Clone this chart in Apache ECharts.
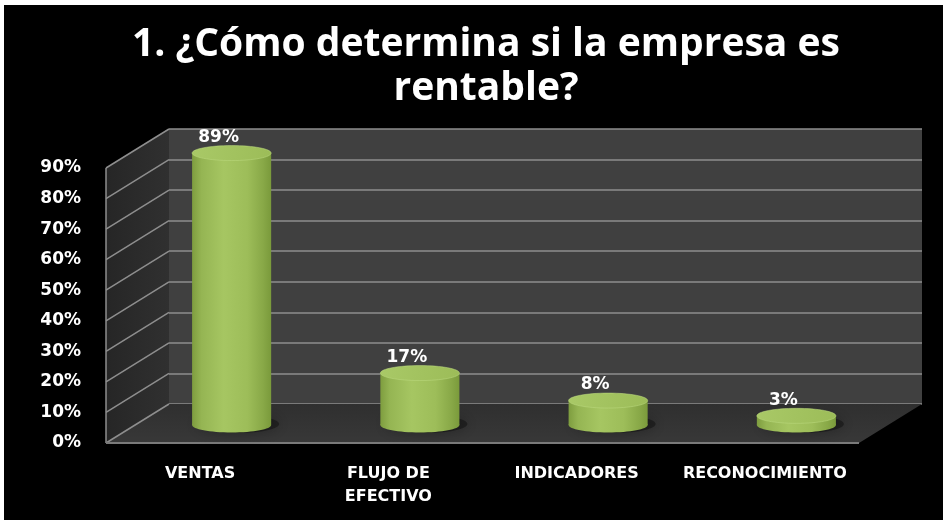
<!DOCTYPE html>
<html>
<head>
<meta charset="utf-8">
<script src="https://cdn.jsdelivr.net/npm/echarts@6/dist/echarts.min.js"></script>
<style>
  html, body { margin: 0; padding: 0; background: #ffffff; }
  #chart { width: 943px; height: 520px; }
</style>
</head>
<body>
<div id="chart"></div>
<script>
// Chart content
const titleText = '1. ¿Cómo determina si la empresa es\nrentable?';
const categories = ['VENTAS', 'FLUJO DE\nEFECTIVO', 'INDICADORES', 'RECONOCIMIENTO'];
const values = [89, 17, 8, 3];
const yMin = 0;
const yMax = 90;
const yStep = 10;
const yTicks = [0, 10, 20, 30, 40, 50, 60, 70, 80, 90];

// 3D box look: depth offset of the front plane relative to the back wall
const DEPTH_DX = -63;
const DEPTH_DY = 39;
// cylinders stand half-way into the box
const BAR_DX = DEPTH_DX / 2;
const BAR_DY = 21;
const BAR_RY = 7.5;

const GRID_LINE = '#8e8e8e';
const labelFont = 'DejaVu Sans';

const chart = echarts.init(document.getElementById('chart'), null, { renderer: 'canvas' });

function wallsRender(params, api) {
  const cs = params.coordSys;
  const x = cs.x, y = cs.y, w = cs.width, h = cs.height;
  const children = [];
  // left side wall
  children.push({
    type: 'polygon',
    shape: { points: [[x, y], [x, y + h], [x + DEPTH_DX, y + h + DEPTH_DY], [x + DEPTH_DX, y + DEPTH_DY]] },
    style: {
      fill: { type: 'linear', x: 0, y: 0, x2: 1, y2: 0,
        colorStops: [{ offset: 0, color: '#262626' }, { offset: 1, color: '#303030' }] }
    }
  });
  // floor
  children.push({
    type: 'polygon',
    shape: { points: [[x, y + h], [x + w, y + h], [x + w + DEPTH_DX, y + h + DEPTH_DY], [x + DEPTH_DX, y + h + DEPTH_DY]] },
    style: {
      fill: { type: 'linear', x: 0, y: 0, x2: 0, y2: 1,
        colorStops: [{ offset: 0, color: '#2f2f2f' }, { offset: 1, color: '#383838' }] }
    }
  });
  // grid lines running across the side wall
  yTicks.forEach(function (v) {
    const p = api.coord([0, v]);
    children.push({
      type: 'line',
      shape: { x1: x, y1: p[1], x2: x + DEPTH_DX, y2: p[1] + DEPTH_DY },
      style: { stroke: GRID_LINE, lineWidth: 1.5 }
    });
  });
  // front vertical edge of the side wall
  children.push({
    type: 'line',
    shape: { x1: x + DEPTH_DX, y1: y + DEPTH_DY, x2: x + DEPTH_DX, y2: y + h + DEPTH_DY },
    style: { stroke: GRID_LINE, lineWidth: 1.5 }
  });
  // front edge of the floor
  children.push({
    type: 'line',
    shape: { x1: x + DEPTH_DX, y1: y + h + DEPTH_DY, x2: x + w + DEPTH_DX, y2: y + h + DEPTH_DY },
    style: { stroke: '#7a7a7a', lineWidth: 2 }
  });
  return { type: 'group', children: children };
}

function cylinderRender(params, api) {
  const idx = api.value(0);
  const val = api.value(1);
  const base = api.coord([idx, 0]);
  const top = api.coord([idx, val]);
  const cx = base[0] + BAR_DX;
  const baseY = base[1] + BAR_DY;
  const topY = top[1] + BAR_DY;
  const w = api.size([1, 0])[0] * 0.42;
  const rx = w / 2;
  const bodyFill = { type: 'linear', x: 0, y: 0, x2: 1, y2: 0,
    colorStops: [
      { offset: 0, color: '#7e9d3f' },
      { offset: 0.12, color: '#95b553' },
      { offset: 0.4, color: '#a6c662' },
      { offset: 0.7, color: '#9dbd59' },
      { offset: 0.9, color: '#88a847' },
      { offset: 1, color: '#7a9a3b' }
    ] };
  const topFill = { type: 'linear', x: 0, y: 0, x2: 1, y2: 1,
    colorStops: [
      { offset: 0, color: '#a9c967' },
      { offset: 1, color: '#9cbc58' }
    ] };
  return {
    type: 'group',
    children: [
      { // soft shadow on the floor
        type: 'ellipse',
        shape: { cx: cx + 6, cy: baseY - 1, rx: rx * 1.05, ry: BAR_RY * 1.2 },
        style: { fill: 'rgba(0,0,0,0.35)', shadowBlur: 14, shadowColor: 'rgba(0,0,0,0.8)' }
      },
      {
        type: 'ellipse',
        shape: { cx: cx, cy: baseY, rx: rx, ry: BAR_RY },
        style: { fill: bodyFill }
      },
      {
        type: 'rect',
        shape: { x: cx - rx, y: topY, width: w, height: Math.max(0, baseY - topY) },
        style: { fill: bodyFill }
      },
      {
        type: 'ellipse',
        shape: { cx: cx, cy: topY, rx: rx, ry: BAR_RY },
        style: { fill: topFill, stroke: 'rgba(190,220,130,0.5)', lineWidth: 1 }
      },
      {
        type: 'text',
        style: {
          x: cx - 13, y: topY - BAR_RY - 8,
          text: val + '%',
          fill: '#ffffff',
          font: 'bold 17px "' + labelFont + '"',
          align: 'center', verticalAlign: 'middle'
        }
      }
    ]
  };
}

const option = {
  backgroundColor: '#000000',
  animation: false,
  title: {
    text: titleText,
    left: 481,
    top: 18,
    textAlign: 'center',
    textStyle: {
      color: '#ffffff',
      fontFamily: 'Open Sans',
      fontWeight: 'bold',
      fontSize: 39,
      lineHeight: 44
    }
  },
  graphic: [
    { type: 'rect', left: 0, top: 0, shape: { width: 943, height: 5 }, style: { fill: '#ffffff' }, z: 100 },
    { type: 'rect', left: 0, top: 0, shape: { width: 4, height: 520 }, style: { fill: '#ffffff' }, z: 100 }
  ],
  grid: [
    // back wall
    { left: 169, right: 21, top: 129, bottom: 116, show: true, backgroundColor: '#404040', borderWidth: 0 },
    // front plane (carries the axis labels)
    { left: 169 + DEPTH_DX, right: 21 - DEPTH_DX, top: 129 + DEPTH_DY, bottom: 116 - DEPTH_DY }
  ],
  xAxis: [
    { type: 'category', gridIndex: 0, data: categories, show: false },
    {
      type: 'category', gridIndex: 1, data: categories,
      axisLine: { show: false }, axisTick: { show: false },
      axisLabel: {
        color: '#ffffff', fontFamily: labelFont, fontWeight: 'bold', fontSize: 16,
        lineHeight: 23, margin: 19, interval: 0
      }
    }
  ],
  yAxis: [
    {
      type: 'value', gridIndex: 0, min: yMin, max: yMax, interval: yStep,
      axisLine: { show: false }, axisTick: { show: false }, axisLabel: { show: false },
      splitLine: { show: true, lineStyle: { color: GRID_LINE, width: 1.5 } }
    },
    {
      type: 'value', gridIndex: 1, min: yMin, max: yMax, interval: yStep,
      axisLine: { show: false }, axisTick: { show: false },
      splitLine: { show: false },
      axisLabel: {
        color: '#ffffff', fontFamily: labelFont, fontWeight: 'bold', fontSize: 17,
        margin: 25, formatter: '{value}%'
      }
    }
  ],
  series: [
    {
      type: 'custom', xAxisIndex: 0, yAxisIndex: 0, z: 1,
      data: [[0, 0]], renderItem: wallsRender, silent: true
    },
    {
      type: 'custom', xAxisIndex: 0, yAxisIndex: 0, z: 5,
      data: values.map(function (v, i) { return [i, v]; }),
      encode: { x: 0, y: 1 },
      renderItem: cylinderRender
    }
  ]
};

chart.setOption(option);
</script>
</body>
</html>
